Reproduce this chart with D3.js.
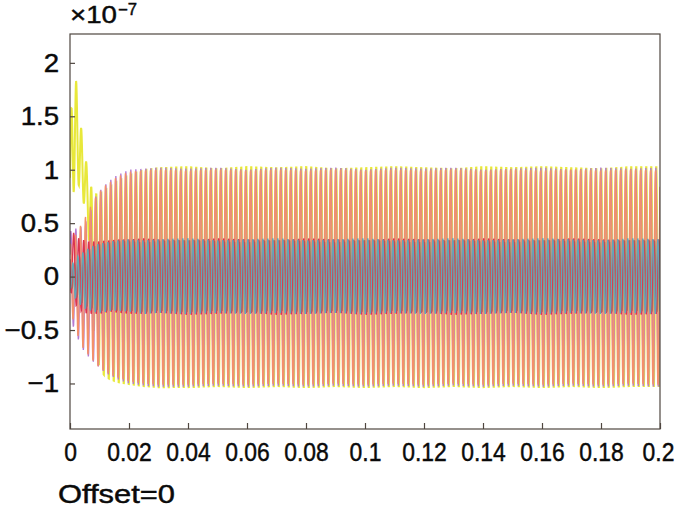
<!DOCTYPE html>
<html><head><meta charset="utf-8">
<script src="https://cdn.jsdelivr.net/npm/d3@7"></script>
<style>
html,body{margin:0;padding:0;background:#fff;}
svg{display:block;}
text{font-family:"Liberation Sans",Arial,sans-serif;fill:#0a0a0a;stroke:#0a0a0a;stroke-width:0.45px;}
</style></head>
<body>
<svg id="chart" width="678" height="507"></svg>
<script>
// ---- data (values in units of 1e-7) ----
const xTicks = [0,0.02,0.04,0.06,0.08,0.1,0.12,0.14,0.16,0.18,0.2];
const xTickLabels = ["0","0.02","0.04","0.06","0.08","0.1","0.12","0.14","0.16","0.18","0.2"];
const yTicks = [-1,-0.5,0,0.5,1,1.5,2];
const yTickLabels = ["\u22121","\u22120.5","0","0.5","1","1.5","2"];
const xDomain = [0,0.2];
const yDomain = [-1.426,2.27];
const oscFreq = 590;          // oscillation frequency read from stripe spacing (Hz)
const caption = "Offset=0";
const exponentBase = "\u00d710";
const exponentPow = "\u22127";

// envelope knot times
const envT = [0,0.001,0.002,0.003,0.004,0.005,0.006,0.007,0.008,0.01,0.012,0.014,0.016,0.02,0.025,0.03,
  0.04,0.05,0.06,0.07,0.08,0.09,0.1,0.11,0.12,0.13,0.14,0.15,0.16,0.17,0.18,0.19,0.2];

// upper / lower envelopes
const yellowUpper = [1.3,1.9,1.86,1.55,1.35,1.15,1.0,0.86,0.78,0.78,0.82,0.86,0.9,0.96,1.01,1.03,1.04,1.02,1.04,1.03,1.04,1.02,1.03,1.04,1.03,1.02,1.04,1.03,1.04,1.03,1.02,1.04,1.04];
const yellowLower = [0.55,0.75,0.9,0.85,0.75,0.65,0.5,0.1,-0.5,-0.88,-0.95,-0.98,-1.0,-1.02,-1.04,-1.05,-1.05,-1.04,-1.05,-1.04,-1.05,-1.04,-1.05,-1.04,-1.05,-1.04,-1.05,-1.04,-1.05,-1.04,-1.05,-1.04,-1.04];
const purpleUpper = [0.42,0.44,0.45,0.46,0.47,0.5,0.55,0.62,0.72,0.8,0.86,0.91,0.95,1.0,1.01,1.02,1.01,1.02,1.0,1.02,1.01,1.02,1.0,1.02,1.01,1.02,1.0,1.01,1.02,1.0,1.02,1.01,1.02];
const purpleLower = [-0.4,-0.46,-0.53,-0.6,-0.66,-0.71,-0.74,-0.77,-0.8,-0.85,-0.9,-0.93,-0.96,-1.0,-1.02,-1.03,-1.03,-1.02,-1.03,-1.02,-1.03,-1.02,-1.03,-1.02,-1.03,-1.02,-1.03,-1.02,-1.03,-1.02,-1.03,-1.02,-1.03];
const salmonUpper = [0.3,0.35,0.4,0.45,0.5,0.55,0.6,0.66,0.72,0.8,0.86,0.9,0.94,0.99,1.0,1.01,1.0,1.01,1.0,1.01,1.0,1.01,1.0,1.01,1.0,1.01,1.0,1.01,1.0,1.01,1.0,1.01,1.0];
const salmonLower = [-0.3,-0.4,-0.5,-0.58,-0.65,-0.7,-0.73,-0.76,-0.8,-0.86,-0.9,-0.93,-0.95,-0.99,-1.01,-1.02,-1.02,-1.01,-1.02,-1.01,-1.02,-1.01,-1.02,-1.01,-1.02,-1.01,-1.02,-1.01,-1.02,-1.01,-1.02,-1.01,-1.02];
const oliveUpper = [0.05,0.1,0.14,0.17,0.2,0.22,0.24,0.26,0.28,0.3,0.31,0.32,0.33,0.33,0.32,0.33,0.34,0.33,0.32,0.34,0.33,0.32,0.34,0.33,0.32,0.34,0.33,0.32,0.34,0.33,0.32,0.34,0.33];
const oliveLower = [-0.06,-0.12,-0.17,-0.21,-0.24,-0.26,-0.28,-0.29,-0.3,-0.32,-0.32,-0.31,-0.32,-0.32,-0.33,-0.32,-0.33,-0.32,-0.33,-0.32,-0.33,-0.32,-0.33,-0.32,-0.33,-0.32,-0.33,-0.32,-0.33,-0.32,-0.33,-0.32,-0.33];
const tealUpper = [0.08,0.13,0.17,0.2,0.22,0.24,0.26,0.28,0.29,0.31,0.32,0.33,0.34,0.35,0.34,0.35,0.36,0.34,0.35,0.36,0.34,0.35,0.36,0.34,0.35,0.36,0.34,0.35,0.36,0.35,0.34,0.36,0.35];
const tealLower = [-0.1,-0.16,-0.21,-0.25,-0.28,-0.3,-0.31,-0.32,-0.33,-0.34,-0.33,-0.32,-0.32,-0.33,-0.35,-0.34,-0.35,-0.34,-0.35,-0.34,-0.35,-0.34,-0.35,-0.34,-0.35,-0.34,-0.35,-0.34,-0.35,-0.34,-0.35,-0.34,-0.35];
const redUpper = [0.48,0.42,0.38,0.36,0.35,0.34,0.33,0.33,0.33,0.33,0.34,0.34,0.35,0.35,0.36,0.35,0.34,0.36,0.35,0.34,0.36,0.35,0.34,0.36,0.35,0.34,0.36,0.35,0.34,0.36,0.35,0.34,0.35];
const redLower = [-0.12,-0.2,-0.27,-0.31,-0.33,-0.34,-0.35,-0.35,-0.35,-0.35,-0.34,-0.33,-0.34,-0.35,-0.35,-0.34,-0.36,-0.35,-0.34,-0.36,-0.35,-0.34,-0.36,-0.35,-0.34,-0.36,-0.35,-0.34,-0.36,-0.35,-0.34,-0.36,-0.35];

const seriesNames = ["yellow","purple","salmon","olive","red","teal"];
const seriesColors = ["#e8e83a","#b57ad2","#f4906a","#9c8a60","#dc3550","#62a6b8"];
const seriesPhase = [0,0.5,1.0,2.1,3.2,4.3];
const seriesUpper = [yellowUpper,purpleUpper,salmonUpper,oliveUpper,redUpper,tealUpper];
const seriesLower = [yellowLower,purpleLower,salmonLower,oliveLower,redLower,tealLower];

// ---- layout ----
const L = 70, R = 660, T = 34, B = 429;
const axisColor = "#4f4740";
const svg = d3.select("#chart");
const x = d3.scaleLinear().domain(xDomain).range([L,R]);
const y = d3.scaleLinear().domain(yDomain).range([B,T]);

svg.append("defs").append("clipPath").attr("id","clip")
  .append("rect").attr("x",L).attr("y",T).attr("width",R-L).attr("height",B-T);

const plot = svg.append("g").attr("clip-path","url(#clip)");
const period = 1/oscFreq;
const dt = period/18;
const times = d3.range(0, xDomain[1]+dt/2, dt);

seriesNames.forEach((name,i)=>{
  const up = d3.scaleLinear().domain(envT).range(seriesUpper[i]).clamp(true);
  const lo = d3.scaleLinear().domain(envT).range(seriesLower[i]).clamp(true);
  const pts = times.map(t=>{
    const mid = (up(t)+lo(t))/2, half = (up(t)-lo(t))/2;
    return [t, mid + half*Math.sin(2*Math.PI*oscFreq*t + seriesPhase[i])];
  });
  plot.append("path")
    .datum(pts)
    .attr("fill","none")
    .attr("stroke",seriesColors[i])
    .attr("stroke-width",i===0?2.0:1.35)
    .attr("d",d3.line().x(d=>x(d[0])).y(d=>y(d[1])));
});

// axes
const xAxis = d3.axisBottom(x).tickValues(xTicks)
  .tickFormat((d,i)=>xTickLabels[i]).tickSizeInner(-6).tickSizeOuter(0).tickPadding(14);
const gx = svg.append("g").attr("transform",`translate(0,${B})`).call(xAxis);
const yAxis = d3.axisLeft(y).tickValues(yTicks)
  .tickFormat((d,i)=>yTickLabels[i]).tickSizeInner(-5).tickSizeOuter(0).tickPadding(11);
const gy = svg.append("g").attr("transform",`translate(${L},0)`).call(yAxis);
[[gx,0.88],[gy,1.06]].forEach(([g,squeeze])=>{
  g.select(".domain").remove();
  g.selectAll(".tick line").attr("stroke",axisColor).attr("stroke-width",1.2);
  g.selectAll(".tick text").attr("font-size",26).attr("fill","#0a0a0a")
   .style("font-family","'Liberation Sans',Arial,sans-serif")
   .each(function(){
     const len = this.getComputedTextLength();
     d3.select(this).attr("textLength",len*squeeze).attr("lengthAdjust","spacingAndGlyphs");
   });
});
// keep the last x label inside the picture
gx.selectAll(".tick text").filter((d,i)=>i===xTicks.length-1).attr("dx",-2);

// box
svg.append("rect").attr("x",L).attr("y",T).attr("width",R-L).attr("height",B-T)
  .attr("fill","none").attr("stroke",axisColor).attr("stroke-width",1.2);

// exponent
svg.append("text").attr("x",70).attr("y",23).attr("font-size",24)
  .attr("textLength",47).attr("lengthAdjust","spacingAndGlyphs").text(exponentBase);
svg.append("text").attr("x",118).attr("y",15).attr("font-size",16)
  .attr("textLength",19).attr("lengthAdjust","spacingAndGlyphs").text(exponentPow);

// caption
svg.append("text").attr("x",58).attr("y",503).attr("font-size",25)
  .attr("textLength",117).attr("lengthAdjust","spacingAndGlyphs").text(caption);
</script>
</body></html>
